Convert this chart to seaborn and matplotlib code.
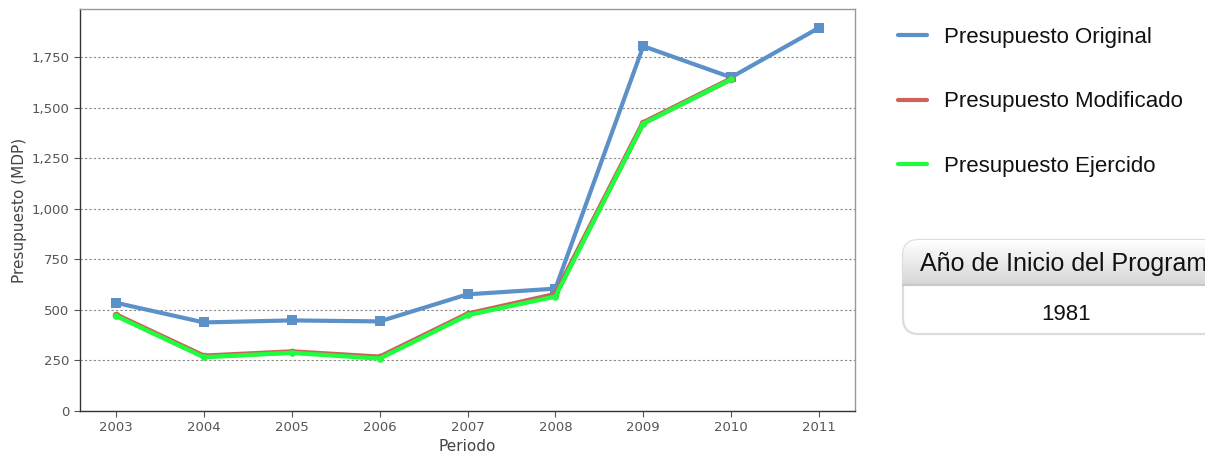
import matplotlib
matplotlib.use('Agg')
import matplotlib.pyplot as plt
import matplotlib.ticker as tkr
from matplotlib.lines import Line2D
from matplotlib.patches import FancyBboxPatch
import seaborn as sns
import pandas as pd
import numpy as np

# ------------------ DATA ------------------ #
years = [2003, 2004, 2005, 2006, 2007, 2008, 2009, 2010, 2011]
original = [535, 438, 448, 443, 577, 605, 1804, 1650, 1895]
modificado = [475, 271, 292, 266, 479, 576, 1425, 1642, None]
ejercido = [470, 266, 288, 259, 474, 566, 1421, 1640, None]
series_names = ['Presupuesto Original', 'Presupuesto Modificado', 'Presupuesto Ejercido']
inicio_programa = '1981'

colors = {'Presupuesto Original': '#5b90c8',
          'Presupuesto Modificado': '#cc6258',
          'Presupuesto Ejercido': '#1dff3e'}

df = pd.concat([
    pd.DataFrame({'Periodo': years, 'valor': vals, 'serie': name})
    for name, vals in zip(series_names, [original, modificado, ejercido])
], ignore_index=True).dropna()

# ------------------ CHART ------------------ #
sns.set_style('white')
plt.rcParams['font.family'] = ['DejaVu Sans']
fig = plt.figure(figsize=(12.05, 4.55), dpi=100)
ax = fig.add_axes([80 / 1205, 44 / 455, 775 / 1205, 402 / 455])

styles = {
    'Presupuesto Original': dict(lw=3.0, marker='s', ms=6.5),
    'Presupuesto Modificado': dict(lw=3.9, marker='o', ms=5.5),
    'Presupuesto Ejercido': dict(lw=3.1, marker='o', ms=4.8),
}
for name in series_names:
    st = styles[name]
    sns.lineplot(data=df[df['serie'] == name], x='Periodo', y='valor', ax=ax,
                 color=colors[name], linewidth=st['lw'], marker=st['marker'],
                 markersize=st['ms'], markeredgewidth=0, legend=False)

ax.set_xlim(2002.59, 2011.41)
ax.set_ylim(0, 1988)
ax.set_xticks(years)
ax.set_yticks(np.arange(0, 2000, 250))
ax.yaxis.set_major_formatter(tkr.FuncFormatter(lambda y, p: f'{y:,.0f}'))
ax.tick_params(axis='both', labelsize=9.5, labelcolor='#555555', length=4,
               width=0.8, color='#555555', direction='out', bottom=True, left=True)
ax.set_xlabel('Periodo', fontsize=11, color='#444444', labelpad=3)
ax.set_ylabel('Presupuesto (MDP)', fontsize=11, color='#444444', labelpad=3)
ax.yaxis.grid(True, color='#888888', linestyle=(0, (2, 2)), linewidth=0.8)
ax.set_axisbelow(True)
for side in ['left', 'bottom']:
    ax.spines[side].set_color('#333333')
    ax.spines[side].set_linewidth(1.0)
for side in ['top', 'right']:
    ax.spines[side].set_color('#999999')
    ax.spines[side].set_linewidth(1.0)

# legend outside, at the right
handles = [Line2D([], [], color=colors[n], lw=3) for n in series_names]
fig.legend(handles, series_names, loc='upper left',
           bbox_to_anchor=(878 / 1205, 1 - 7 / 455), frameon=False,
           fontsize=16, handlelength=1.3, handletextpad=0.75, labelspacing=1.95)

# info box: año de inicio del programa
bax = fig.add_axes([900 / 1205, 118 / 455, 330 / 1205, 100 / 455])
bax.set_xlim(0, 330)
bax.set_ylim(0, 100)
bax.axis('off')
box = FancyBboxPatch((3, 3), 340, 94, boxstyle='round,pad=0,rounding_size=16',
                     facecolor='white', edgecolor='#dcdcdc', lw=1.6, zorder=1)
bax.add_patch(box)
grad = np.linspace(0, 1, 50).reshape(-1, 1)
im = bax.imshow(grad, extent=[0, 345, 52, 97], cmap=matplotlib.colors.LinearSegmentedColormap.from_list(
    'hdr', ['#ffffff', '#d6d6d6']), aspect='auto', origin='upper', zorder=2)
im.set_clip_path(box)
bax.plot([3, 345], [52, 52], color='#c8c8c8', lw=1.5, zorder=3)
bax.text(20, 73, 'Año de Inicio del Programa', fontsize=18, family='Liberation Sans',
         color='#111111', va='center', ha='left', zorder=4, clip_on=False)
bax.text(166, 22, inicio_programa, fontsize=16, family='Liberation Sans',
         color='#111111', va='center', ha='center', zorder=4)

for t in fig.legends[0].get_texts():
    t.set_family('Liberation Sans')
    t.set_color('#111111')

fig.savefig('out.png', dpi=100)
